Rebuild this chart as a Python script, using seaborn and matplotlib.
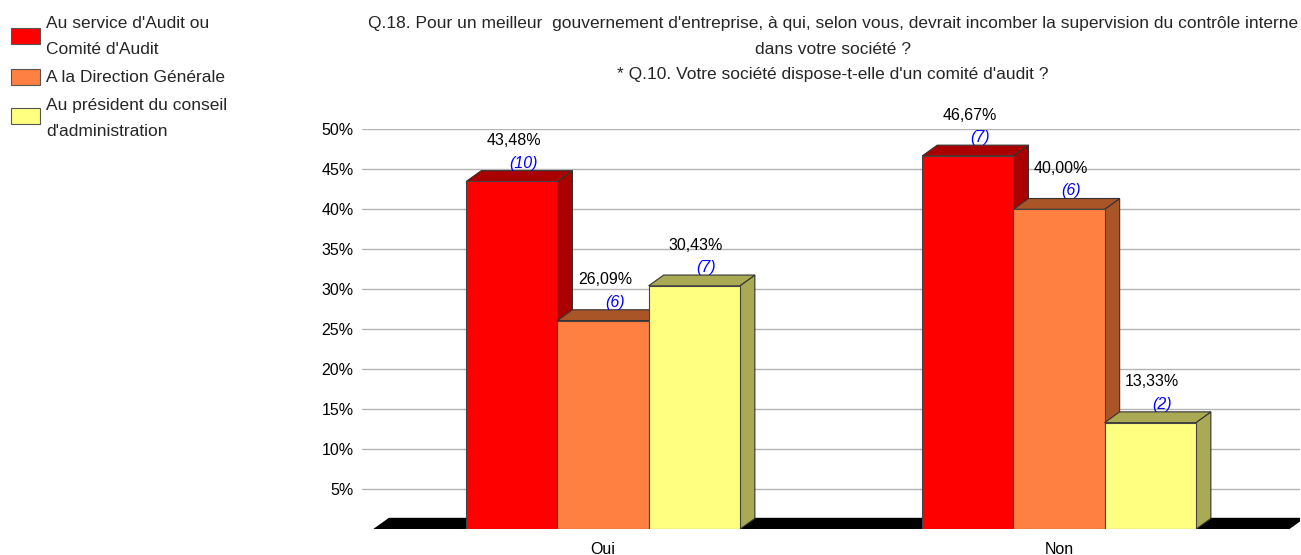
import numpy as np
import pandas as pd
import matplotlib
matplotlib.use("Agg")
import matplotlib.pyplot as plt
from matplotlib.patches import Polygon, Rectangle
import seaborn as sns

categories = ["Oui", "Non"]
series = ["Au service d'Audit ou\nComité d'Audit",
          "A la Direction Générale",
          "Au président du conseil\nd'administration"]
pct_oui = [43.48, 26.09, 30.43]
pct_non = [46.67, 40.00, 13.33]
cnt_oui = [10, 6, 7]
cnt_non = [7, 6, 2]
yticks = [5, 10, 15, 20, 25, 30, 35, 40, 45, 50]

front = ["#FF0000", "#FF8040", "#FFFF80"]
side = ["#AA0000", "#AA5528", "#AAAA55"]

title = ("Q.18. Pour un meilleur  gouvernement d'entreprise, à qui, selon vous, devrait incomber la supervision du contrôle interne\n"
         "dans votre société ?\n"
         "* Q.10. Votre société dispose-t-elle d'un comité d'audit ?")

df = pd.DataFrame({
    "cat": [categories[0]] * 3 + [categories[1]] * 3,
    "serie": series * 2,
    "pct": pct_oui + pct_non,
    "n": cnt_oui + cnt_non,
})

sns.set_style("white")
plt.rcParams["font.family"] = ["Liberation Sans", "DejaVu Sans"]

W, H = 1301, 555
fig = plt.figure(figsize=(W / 100, H / 100), dpi=100)
ax = fig.add_axes([362 / W, 25.7 / H, 938 / W, 400 / H])

sns.barplot(data=df, x="cat", y="pct", hue="serie", hue_order=series,
            palette=front, width=0.6, legend=False, ax=ax,
            edgecolor="#444444", linewidth=0.8, saturation=1)

ax.set_xlim(-0.5285, 1.5285)
ax.set_ylim(0, 50)

dx, dy = 0.033, 1.35

# black floor
floor = Polygon([(-0.502, 0), (-0.502 + dx, dy), (1.502 + dx, dy), (1.502, 0)],
                closed=True, facecolor="black", edgecolor="black", zorder=1.5)
ax.add_patch(floor)

counts = [cnt_oui, cnt_non]
for si, cont in enumerate(ax.containers):
    for ci, bar in enumerate(cont):
        x0 = bar.get_x()
        w = bar.get_width()
        h = bar.get_height()
        z = 2 + (ci * 3 + si)
        bar.set_zorder(z + 0.5)
        sd = Polygon([(x0 + w, 0), (x0 + w + dx, dy), (x0 + w + dx, h + dy), (x0 + w, h)],
                     closed=True, facecolor=side[si], edgecolor="#333333", lw=0.8, zorder=z)
        tp = Polygon([(x0, h), (x0 + dx, h + dy), (x0 + w + dx, h + dy), (x0 + w, h)],
                     closed=True, facecolor=side[si], edgecolor="#333333", lw=0.8, zorder=z)
        ax.add_patch(sd)
        ax.add_patch(tp)
        cx = x0 + w / 2
        ax.text(cx + 0.004, h + 5.1, f"{h:.2f}%".replace(".", ","), ha="center", va="center",
                fontsize=11.5, color="black", clip_on=False, zorder=20)
        ax.text(cx + 0.026, h + 2.3, f"({counts[ci][si]})", ha="center", va="center",
                fontsize=11.5, color="#0000FF", style="italic", clip_on=False, zorder=20)

ax.set_yticks(yticks)
ax.set_yticklabels([f"{t}%" for t in yticks])
ax.yaxis.grid(True, color="#B4B4B4", lw=1)
ax.set_axisbelow(True)
ax.tick_params(axis="both", length=0, labelsize=11.5, colors="black")
ax.tick_params(axis="y", pad=6)
ax.tick_params(axis="x", pad=9)
ax.set_xlabel("")
ax.set_ylabel("")
sns.despine(ax=ax, left=True, bottom=True)

fig.text(833 / W, 1 - 49 / H, title, ha="center", va="center", fontsize=12.5,
         linespacing=1.9, multialignment="center")

# legend drawn by hand to match the original spacing
swatch_y = [36, 77, 116]
line_y = [[24, 50], [77], [105, 132]]
for i, lab in enumerate(series):
    fig.patches.append(Rectangle((11 / W, 1 - (swatch_y[i] + 8) / H), 29 / W, 16 / H,
                                 transform=fig.transFigure, facecolor=front[i],
                                 edgecolor="#555555", lw=0.8))
    for line, yy in zip(lab.split("\n"), line_y[i]):
        fig.text(46 / W, 1 - yy / H, line, ha="left", va="center", fontsize=12.5)

fig.savefig("out.png", dpi=100)
